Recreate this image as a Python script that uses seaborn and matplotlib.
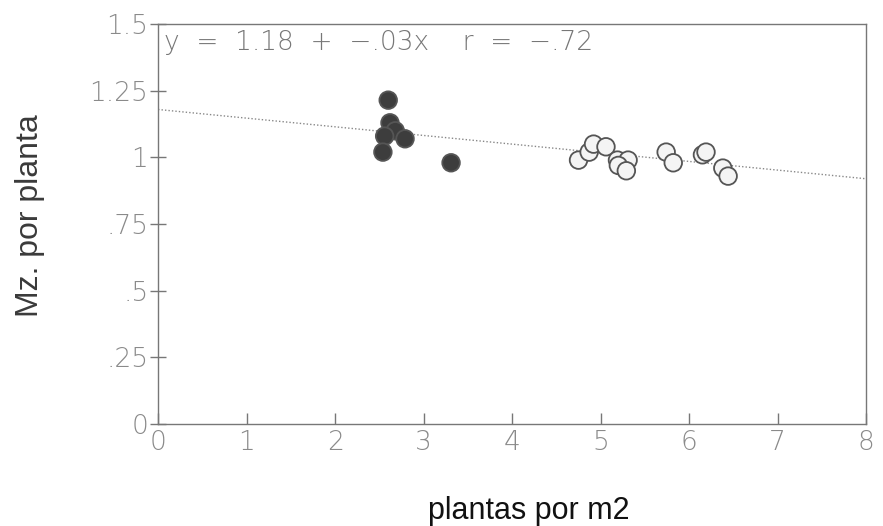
import numpy as np
import pandas as pd
import matplotlib
matplotlib.use('Agg')
import matplotlib.pyplot as plt
import seaborn as sns

# dark points (low density) and light points (high density)
dark_x = [2.60, 2.62, 2.68, 2.56, 2.79, 2.54, 3.31]
dark_y = [1.215, 1.13, 1.10, 1.08, 1.07, 1.02, 0.98]
light_x = [4.75, 4.87, 4.92, 5.06, 5.19, 5.31, 5.20, 5.29, 5.74, 5.82, 6.15, 6.19, 6.38, 6.44]
light_y = [0.99, 1.02, 1.05, 1.04, 0.99, 0.99, 0.97, 0.95, 1.02, 0.98, 1.01, 1.02, 0.96, 0.93]

# regression line endpoints
line_x = [0, 8]
line_y = [1.18, 0.92]

x_ticks = [0, 1, 2, 3, 4, 5, 6, 7, 8]
y_ticks = [0, 0.25, 0.5, 0.75, 1, 1.25, 1.5]
y_tick_labels = ['0', '.25', '.5', '.75', '1', '1.25', '1.5']

df = pd.DataFrame({
    'x': dark_x + light_x,
    'y': dark_y + light_y,
    'grupo': ['dark'] * len(dark_x) + ['light'] * len(light_x),
})

sns.set_style("white")
plt.rcParams['font.family'] = ['DejaVu Sans']
plt.rcParams['xtick.bottom'] = True
plt.rcParams['ytick.left'] = True

fig = plt.figure(figsize=(8.83, 5.26), dpi=100)
ax = fig.add_axes([0.179, 0.194, 0.802, 0.760])

ax.plot(line_x, line_y, linestyle=(0, (1, 1.5)), color='#888888', linewidth=1.0, zorder=1)

sns.scatterplot(data=df, x='x', y='y', hue='grupo',
                palette={'dark': '#3d3d3d', 'light': '#f4f4f4'},
                edgecolor='#555555', linewidth=1.3, s=160, legend=False,
                ax=ax, zorder=3)

ax.set_xlim(0, 8)
ax.set_ylim(0, 1.5)
ax.set_xticks(x_ticks)
ax.set_yticks(y_ticks)
ax.set_yticklabels(y_tick_labels)

tick_color = '#8a8a8a'
ax.tick_params(axis='x', bottom=True, direction='in', length=8, width=1, color='#777777',
               labelsize=19, labelcolor=tick_color, pad=4)
ax.tick_params(axis='y', left=True, direction='inout', length=12, width=1, color='#777777',
               labelsize=19, labelcolor=tick_color, pad=1)
for lab in ax.get_xticklabels() + ax.get_yticklabels():
    lab.set_fontweight('light')

for sp in ax.spines.values():
    sp.set_color('#777777')
    sp.set_linewidth(1.0)

ax.set_xlabel('plantas por m2', fontsize=22, color='#111111', family='Liberation Sans')
ax.xaxis.set_label_coords(0.524, -0.18)
ax.set_ylabel('Mz. por planta', fontsize=23, color='#3a3a3a', family='Liberation Sans')
ax.yaxis.set_label_coords(-0.16, 0.52)

ax.text(0.008, 0.985, 'y  =  1.18  +  \u2212.03x    r  =  \u2212.72', transform=ax.transAxes,
        ha='left', va='top', fontsize=19, color='#777777', fontweight='light')

fig.savefig('out.png', dpi=100)
